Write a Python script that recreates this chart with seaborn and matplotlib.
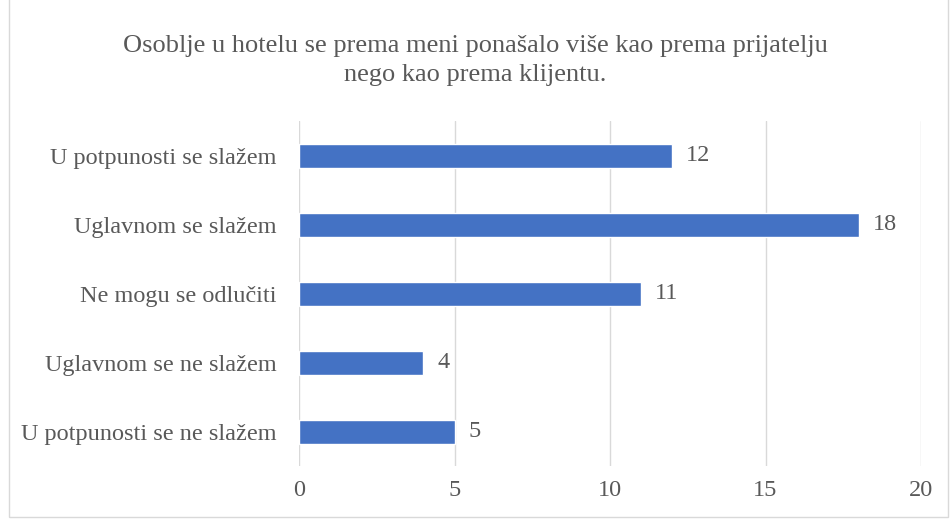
import numpy as np
import pandas as pd
import seaborn as sns
import matplotlib.pyplot as plt
from matplotlib.patches import Rectangle

# data
categories = ['U potpunosti se slažem', 'Uglavnom se slažem', 'Ne mogu se odlučiti',
              'Uglavnom se ne slažem', 'U potpunosti se ne slažem']
counts = [12, 18, 11, 4, 5]
title = 'Osoblje u hotelu se prema meni ponašalo više kao prema prijatelju\nnego kao prema klijentu.'

df = pd.DataFrame({'odgovor': categories, 'broj': counts})

sns.set_style('white')
plt.rcParams['font.family'] = ['Liberation Serif', 'DejaVu Serif']
txt = '#595959'

fig = plt.figure(figsize=(9.51, 5.19), dpi=100)
ax = fig.add_axes([0.3144, 0.1012, 0.6541, 0.6647])

sns.barplot(data=df, x='broj', y='odgovor', order=categories, color='#4472C4',
            width=0.36, saturation=1, ax=ax, zorder=3)

ax.set_xlim(0, 20)
ax.set_xticks([0, 5, 10, 15, 20])
ax.grid(axis='x', color='#d9d9d9', linewidth=1, zorder=0)
for s in ax.spines.values():
    s.set_visible(False)
ax.tick_params(axis='both', length=0, labelsize=17.5, colors=txt)
ax.tick_params(axis='x', pad=10)
ax.tick_params(axis='y', pad=16)
ax.set_xlabel('')
ax.set_ylabel('')

for c in ax.containers:
    ax.bar_label(c, padding=10, fontsize=17.5, color=txt)

fig.text(0.5, 0.884, title, ha='center', va='center', fontsize=19, color=txt,
         linespacing=1.4, transform=fig.transFigure)

fig.patches.append(Rectangle((0.009, 0.004), 0.988, 1.2, transform=fig.transFigure,
                             fill=False, edgecolor='#d9d9d9', linewidth=1))

fig.savefig('out.png', dpi=100)
